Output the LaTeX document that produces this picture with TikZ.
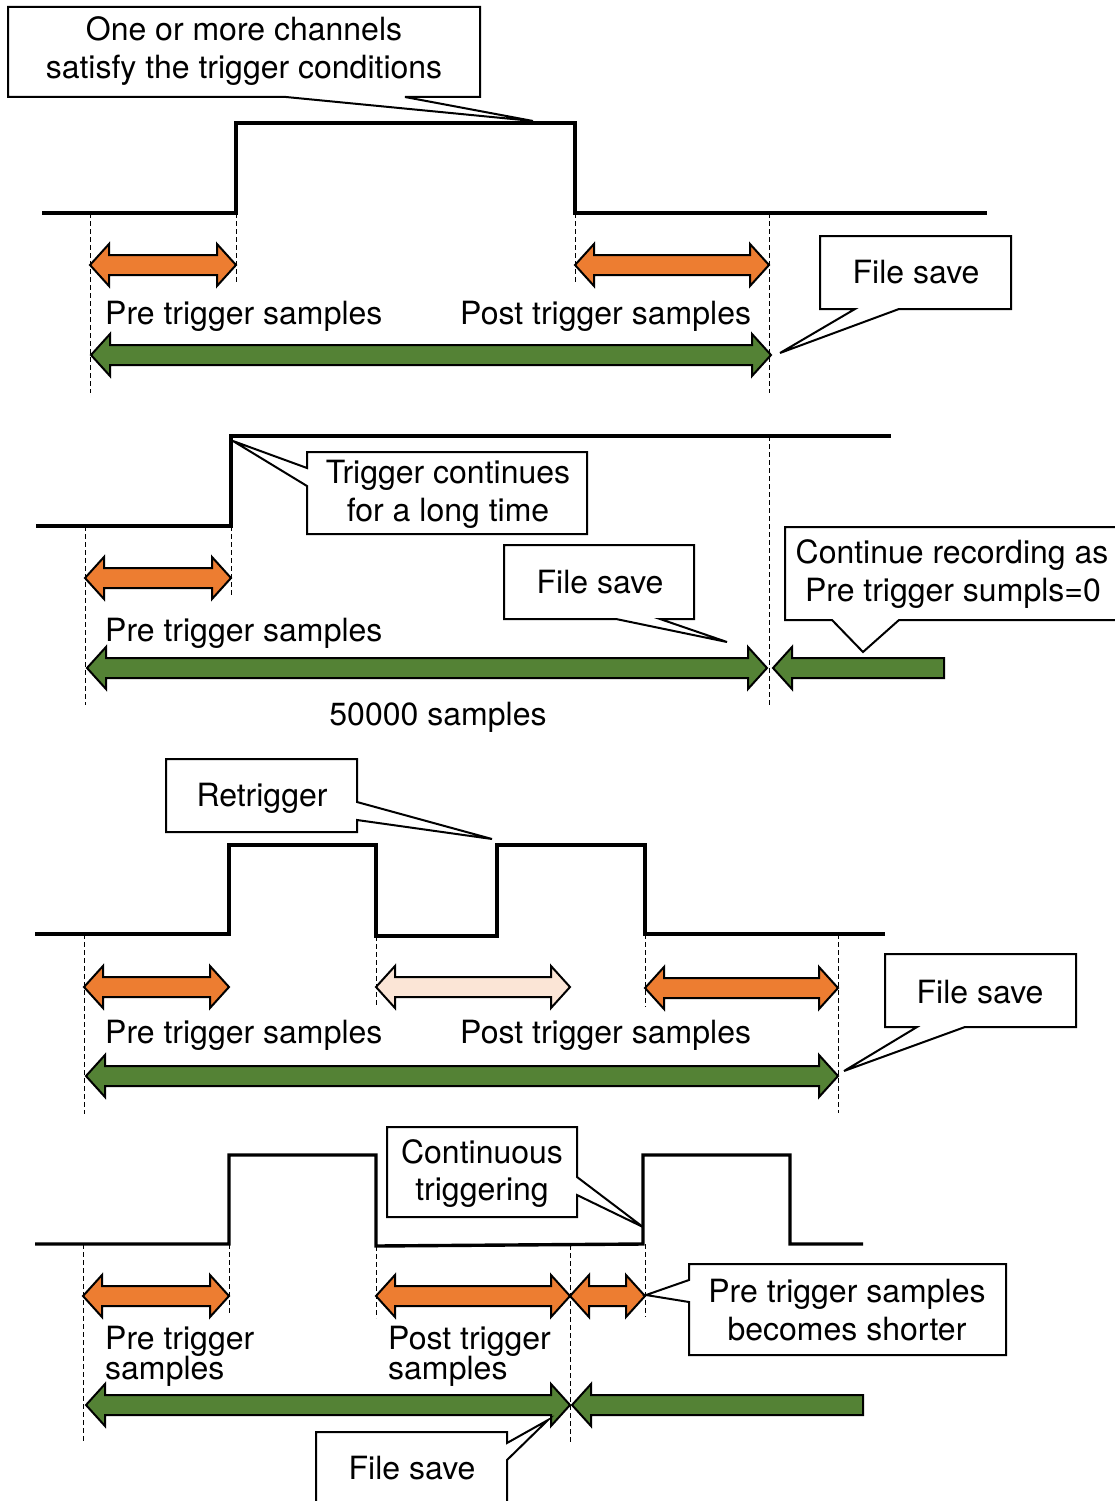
\documentclass[tikz,border=0pt]{standalone}
\usepackage{fontspec}
\setmainfont{TeX Gyre Heros}
\definecolor{orangefill}{HTML}{ED7D31}
\definecolor{greenfill}{HTML}{548235}
\definecolor{peachfill}{HTML}{FBE5D6}

% block arrow with heads at both ends: style, left x, right x, y
\newcommand\dblarrow[4]{%
  \draw[#1] (#2,#4) -- ({#2+19},{#4-21}) -- ({#2+19},{#4-10}) -- ({#3-19},{#4-10})
    -- ({#3-19},{#4-21}) -- (#3,#4) -- ({#3-19},{#4+21}) -- ({#3-19},{#4+10})
    -- ({#2+19},{#4+10}) -- ({#2+19},{#4+21}) -- cycle;}
% block arrow pointing left, flat tail on the right: style, tip x, tail x, y
\newcommand\leftblockarrow[4]{%
  \draw[#1] (#2,#4) -- ({#2+19},{#4-21}) -- ({#2+19},{#4-10}) -- (#3,{#4-10})
    -- (#3,{#4+10}) -- ({#2+19},{#4+10}) -- ({#2+19},{#4+21}) -- cycle;}

\begin{document}
\begin{tikzpicture}[x=1pt,y=-1pt,
  wave/.style={line width=3.4pt,line join=miter},
  guide/.style={line width=0.9pt,dash pattern=on 5pt off 3pt},
  callout/.style={draw=black,fill=white,line width=2pt,line join=miter},
  orangearr/.style={draw=black,fill=orangefill,line width=2pt,line join=miter},
  greenarr/.style={draw=black,fill=greenfill,line width=2pt,line join=miter},
  peacharr/.style={draw=black,fill=peachfill,line width=2pt,line join=miter},
  lbl/.style={font=\fontsize{32}{38}\selectfont,inner sep=0pt,anchor=base},
  lbll/.style={lbl,anchor=base west}]
\useasboundingbox (0,0) rectangle (1115,1501);

% ---------- case 1: single trigger ----------
\draw[wave] (42,213) -| (236,123) -| (575,213) -- (987,213);
\draw[guide] (90,213) -- (90,393);
\draw[guide] (236,213) -- (236,283);
\draw[guide] (575,213) -- (575,283);
\draw[guide] (769,213) -- (769,393);
\dblarrow{orangearr}{90}{236}{265}
\dblarrow{orangearr}{575}{769}{265}
\dblarrow{greenarr}{91}{771}{355}
\node[lbll] (pre1) at (105,324) {Pre trigger samples};
\node[lbll] (post1) at (460,324) {Post trigger samples};
\draw[callout] (8,7) -- (480,7) -- (480,97) -- (405,97) -- (533,121) -- (286,97) -- (8,97) -- cycle;
\node[lbl] (cond1) at (244,41) {One or more channels};
\node[lbl] (cond2) at (244,79) {satisfy the trigger conditions};
\draw[callout] (820,236) -- (1011,236) -- (1011,309) -- (899,309) -- (780,353) -- (855,309) -- (820,309) -- cycle;
\node[lbl] (save1) at (916,283) {File save};

% ---------- case 2: long trigger ----------
\draw[wave] (36,526) -| (231,436) -- (891,436);
\draw[guide] (85,526) -- (85,705);
\draw[guide] (231,526) -- (231,597);
\draw[guide] (769,436) -- (769,705);
\dblarrow{orangearr}{85}{231}{578}
\dblarrow{greenarr}{87}{767}{668}
\leftblockarrow{greenarr}{773}{944}{668}
\node[lbll] (pre2) at (105,641) {Pre trigger samples};
\node[lbl] (count2) at (438,725) {50000 samples};
\draw[callout] (307,452) -- (587,452) -- (587,534) -- (307,534) -- (307,486) -- (233,441) -- (307,468) -- cycle;
\node[lbl] (long1) at (448,483) {Trigger continues};
\node[lbl] (long2) at (448,521) {for a long time};
\draw[callout] (504,545) -- (694,545) -- (694,619) -- (660,619) -- (727,642) -- (616,619) -- (504,619) -- cycle;
\node[lbl] (save2) at (600,593) {File save};
\draw[callout] (785,527) -- (1118,527) -- (1118,620) -- (899,620) -- (863,652) -- (832,620) -- (785,620) -- cycle;
\node[lbl] (cont1) at (952,563) {Continue recording as};
\node[lbl] (cont2) at (953,601) {Pre trigger sumpls=0};

% ---------- case 3: retrigger ----------
\draw[wave] (35,934) -| (229,845) -| (376,936) -| (497,845) -| (645,934) -- (885,934);
\draw[guide] (84,934) -- (84,1114);
\draw[guide] (376,936) -- (376,1007);
\draw[guide] (645,934) -- (645,1007);
\draw[guide] (838,934) -- (838,1113);
\dblarrow{orangearr}{84}{229}{987}
\dblarrow{peacharr}{376}{570}{987}
\dblarrow{orangearr}{645}{838}{988}
\dblarrow{greenarr}{86}{838}{1076}
\node[lbll] (pre3) at (105,1043) {Pre trigger samples};
\node[lbll] (post3) at (460,1043) {Post trigger samples};
\draw[callout] (166,759) -- (357,759) -- (357,802) -- (492,839) -- (357,820) -- (357,832) -- (166,832) -- cycle;
\node[lbl] (retrig) at (262,806) {Retrigger};
\draw[callout] (885,954) -- (1076,954) -- (1076,1027) -- (965,1027) -- (844,1071) -- (917,1027) -- (885,1027) -- cycle;
\node[lbl] (save3) at (980,1003) {File save};

% ---------- case 4: continuous triggering ----------
\draw[wave] (35,1244) -| (229,1155) -| (376,1246) -- (643,1244) |- (790,1155) |- (863,1244);
\draw[guide] (83,1244) -- (83,1443);
\draw[guide] (229,1244) -- (229,1315);
\draw[guide] (376,1246) -- (376,1318);
\draw[guide] (570,1245) -- (570,1443);
\draw[guide] (645,1244) -- (645,1317);
\dblarrow{orangearr}{83}{229}{1296}
\dblarrow{orangearr}{376}{570}{1296}
\dblarrow{orangearr}{570}{645}{1296}
\dblarrow{greenarr}{86}{570}{1405}
\leftblockarrow{greenarr}{572}{863}{1405}
\node[lbll] (pre4a) at (105,1349) {Pre trigger};
\node[lbll] (pre4b) at (105,1379) {samples};
\node[lbll] (post4a) at (388,1349) {Post trigger};
\node[lbll] (post4b) at (388,1379) {samples};
\draw[callout] (387,1127) -- (577,1127) -- (577,1177) -- (643,1227) -- (577,1195) -- (577,1217) -- (387,1217) -- cycle;
\node[lbl] (conttrig1) at (482,1163) {Continuous};
\node[lbl] (conttrig2) at (482,1200) {triggering};
\draw[callout] (689,1264) -- (1006,1264) -- (1006,1355) -- (689,1355) -- (689,1302) -- (646,1295) -- (689,1280) -- cycle;
\node[lbl] (short1) at (847,1302) {Pre trigger samples};
\node[lbl] (short2) at (847,1340) {becomes shorter};
\draw[callout] (316,1432) -- (507,1432) -- (507,1443) -- (548,1420) -- (507,1460) -- (507,1504) -- (316,1504) -- cycle;
\node[lbl] (save4) at (412,1479) {File save};
\end{tikzpicture}
\end{document}
